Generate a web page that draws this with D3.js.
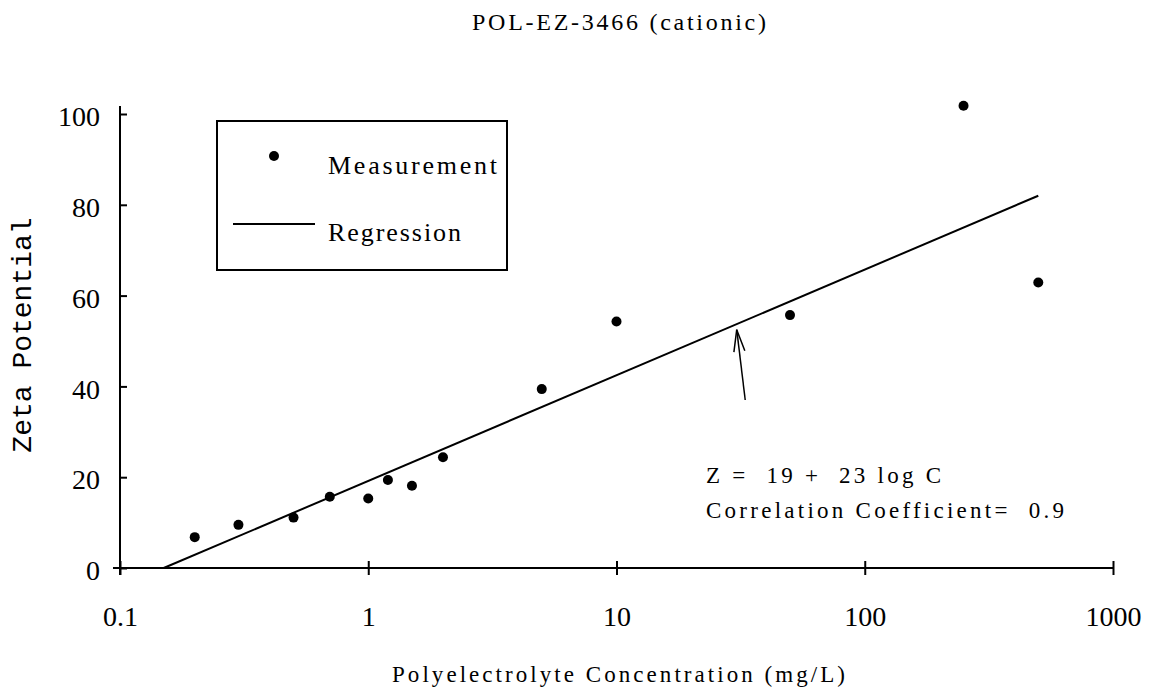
<!DOCTYPE html>
<html>
<head>
<meta charset="utf-8">
<script src="https://cdn.jsdelivr.net/npm/d3@7"></script>
<style>
  body { margin: 0; background: #fff; }
  svg { display: block; background: #fff; }
  text { font-family: "Liberation Serif", "Times New Roman", serif; fill: #000; white-space: pre; }
  .ylabel { font-family: "Liberation Mono", "Courier New", monospace; }
</style>
</head>
<body>
<svg width="1153" height="690"></svg>
<script>
const CONC = [0.2, 0.3, 0.5, 0.7, 1, 1.2, 1.5, 2, 5, 10, 50, 250, 500];
const ZETA = [6.8, 9.5, 11.1, 15.7, 15.3, 19.4, 18.1, 24.4, 39.4, 54.3, 55.7, 101.8, 62.9];
// regression line end points (Z = 19 + 23 log C)
const REG_C = [0.15, 500];
const REG_Z = [0, 82];
const X_TICKS = [0.1, 1, 10, 100, 1000];
const X_TICK_LABELS = ['0.1', '1', '10', '100', '1000'];
const Y_TICKS = [0, 20, 40, 60, 80, 100];
// arrow from the equation to the line, in data units
const ARROW_FROM = [33, 37];
const ARROW_TO = [30.5, 52.5];

const W = 1153, H = 690;
const M = { top: 114, right: 40, bottom: 122, left: 120 };

const svg = d3.select('svg');

const x = d3.scaleLog().domain([0.1, 1000]).range([M.left, W - M.right]);
const y = d3.scaleLinear().domain([0, 100]).range([H - M.bottom, M.top]);

svg.append('defs').append('marker')
    .attr('id', 'head')
    .attr('markerUnits', 'userSpaceOnUse')
    .attr('markerWidth', 30).attr('markerHeight', 20)
    .attr('viewBox', '-2 -10 30 20')
    .attr('refX', 22).attr('refY', 0)
    .attr('orient', 'auto')
    .append('path')
    .attr('d', 'M0,-5.5L22,0L0,5.5')
    .attr('fill', 'none').attr('stroke', '#000').attr('stroke-width', 1.5);

// axes
const xAxis = svg.append('g')
    .attr('transform', `translate(0,${y(0)})`)
    .call(d3.axisBottom(x).tickValues(X_TICKS).tickSize(7)
        .tickFormat((d, i) => X_TICK_LABELS[i]));
xAxis.select('.domain').remove();
xAxis.selectAll('.tick line').attr('y1', -7).attr('stroke-width', 2);
xAxis.selectAll('.tick text')
    .attr('y', 58).attr('dy', null)
    .style('font-family', '"Liberation Serif", serif')
    .style('font-size', '28px');
xAxis.append('line')
    .attr('x1', M.left - 7).attr('x2', W - M.right)
    .attr('stroke', '#000').attr('stroke-width', 2);

const yAxis = svg.append('g')
    .attr('transform', `translate(${M.left},0)`)
    .call(d3.axisLeft(y).tickValues(Y_TICKS).tickSize(7));
yAxis.select('.domain').remove();
yAxis.selectAll('.tick line').attr('x2', 7).attr('stroke-width', 2);
yAxis.selectAll('.tick text')
    .attr('x', -20).attr('dy', '0.42em')
    .style('font-family', '"Liberation Serif", serif')
    .style('font-size', '28px');
yAxis.append('line')
    .attr('y1', y(100) - 8).attr('y2', y(0) + 7)
    .attr('stroke', '#000').attr('stroke-width', 2);

// regression
svg.append('path')
    .datum(REG_C.map((c, i) => [c, REG_Z[i]]))
    .attr('d', d3.line().x(d => x(d[0])).y(d => y(d[1])))
    .attr('fill', 'none').attr('stroke', '#000').attr('stroke-width', 2);

// points
svg.selectAll('.pt')
    .data(CONC.map((c, i) => ({ c, z: ZETA[i] })))
    .join('circle')
    .attr('class', 'pt')
    .attr('cx', d => x(d.c)).attr('cy', d => y(d.z))
    .attr('r', 5).attr('fill', '#000');

// arrow
svg.append('line')
    .attr('x1', x(ARROW_FROM[0])).attr('y1', y(ARROW_FROM[1]))
    .attr('x2', x(ARROW_TO[0])).attr('y2', y(ARROW_TO[1]))
    .attr('stroke', '#000').attr('stroke-width', 1.5)
    .attr('marker-end', 'url(#head)');

// legend
const lg = svg.append('g');
lg.append('rect')
    .attr('x', 217).attr('y', 121).attr('width', 290).attr('height', 149)
    .attr('fill', '#fff').attr('stroke', '#000').attr('stroke-width', 2);
lg.append('circle').attr('cx', 274).attr('cy', 156).attr('r', 5).attr('fill', '#000');
lg.append('line').attr('x1', 233).attr('x2', 315).attr('y1', 224).attr('y2', 224)
    .attr('stroke', '#000').attr('stroke-width', 2);
lg.append('text').attr('x', 328).attr('y', 174)
    .attr('textLength', 169).attr('lengthAdjust', 'spacing')
    .style('font-size', '26px').text('Measurement');
lg.append('text').attr('x', 328).attr('y', 241)
    .attr('textLength', 133).attr('lengthAdjust', 'spacing')
    .style('font-size', '26px').text('Regression');

// equation
svg.append('text').attr('x', 706).attr('y', 483)
    .attr('textLength', 235).attr('lengthAdjust', 'spacing')
    .style('font-size', '23px').text('Z =  19 +  23 log C');
svg.append('text').attr('x', 706).attr('y', 518)
    .attr('textLength', 358).attr('lengthAdjust', 'spacing')
    .style('font-size', '23px').text('Correlation Coefficient=  0.9');

// titles
svg.append('text').attr('x', 472).attr('y', 30)
    .attr('textLength', 294).attr('lengthAdjust', 'spacing')
    .style('font-size', '24px').text('POL-EZ-3466 (cationic)');
svg.append('text').attr('x', 392).attr('y', 682)
    .attr('textLength', 453).attr('lengthAdjust', 'spacing')
    .style('font-size', '23px').text('Polyelectrolyte Concentration (mg/L)');
svg.append('text').attr('class', 'ylabel')
    .attr('transform', 'translate(31,335) rotate(-90)')
    .attr('text-anchor', 'middle')
    .style('font-size', '28px').text('Zeta Potential');
</script>
</body>
</html>
